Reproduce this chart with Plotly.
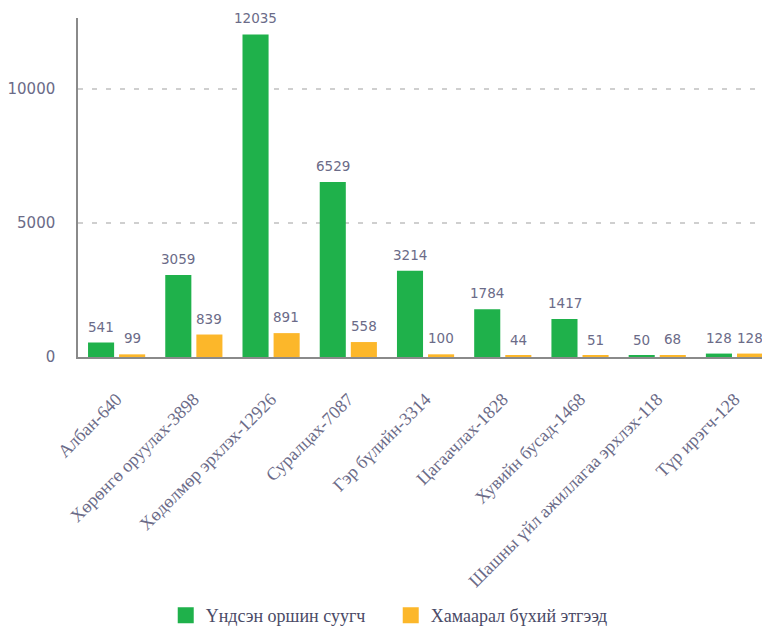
import plotly.graph_objects as go

categories = [
    "Албан-640",
    "Хөрөнгө оруулах-3898",
    "Хөдөлмөр эрхлэх-12926",
    "Суралцах-7087",
    "Гэр бүлийн-3314",
    "Цагаачлах-1828",
    "Хувийн бусад-1468",
    "Шашны үйл ажиллагаа эрхлэх-118",
    "Түр ирэгч-128",
]
residents = [541, 3059, 12035, 6529, 3214, 1784, 1417, 50, 128]
related = [99, 839, 891, 558, 100, 44, 51, 68, 128]
series_names = ["Үндсэн оршин суугч", "Хамаарал бүхий этгээд"]
y_ticks = [0, 5000, 10000]

GREEN = "#1fb14b"
ORANGE = "#fcb72a"
TEXT = "#6b6b88"
SANS = "DejaVu Sans"
SERIF = "Liberation Serif"

fig = go.Figure()
fig.add_trace(go.Bar(x=categories, y=residents, name=series_names[0],
                     marker=dict(color=GREEN, line=dict(width=0)),
                     showlegend=False, hoverinfo="x+y"))
fig.add_trace(go.Bar(x=categories, y=related, name=series_names[1],
                     marker=dict(color=ORANGE, line=dict(width=0)),
                     showlegend=False, hoverinfo="x+y"))
# legend entries with larger square swatches
for nm, col in zip(series_names, [GREEN, ORANGE]):
    fig.add_trace(go.Scatter(x=[None], y=[None], mode="markers", name=nm,
                             marker=dict(symbol="square", size=16, color=col)))

annotations = []
for vals, shift in ((residents, -15.4), (related, 15.4)):
    for c, v in zip(categories, vals):
        annotations.append(dict(x=c, y=v, text=str(v), showarrow=False,
                                xanchor="center", yanchor="bottom",
                                xshift=shift, yshift=7, borderpad=0,
                                font=dict(family=SANS, size=13.5, color=TEXT)))

# the page adds an 8px body margin, so the figure is 8px smaller on each axis
fig.update_layout(
    width=762, height=623,
    margin=dict(l=70, r=0, t=10, b=274),
    paper_bgcolor="white", plot_bgcolor="white",
    barmode="group", bargap=0.195, bargroupgap=0.161,
    annotations=annotations,
    showlegend=True,
    legend=dict(orientation="h", xref="container", yref="container",
                x=0.207, xanchor="left", y=0.0546, yanchor="top",
                entrywidth=180, entrywidthmode="pixels",
                font=dict(family=SERIF, size=18, color="#4a4a66"),
                itemclick=False, itemdoubleclick=False),
    xaxis=dict(type="category", range=[-0.5, 8.46], tickangle=-45,
               showline=True, linecolor="#8a8a8a", linewidth=1.5,
               ticks="", showgrid=False, ticklabelstandoff=23,
               tickfont=dict(family=SERIF, size=18, color=TEXT)),
    yaxis=dict(range=[0, 12650], tickvals=y_ticks, ticktext=[str(t) for t in y_ticks],
               showline=True, linecolor="#8a8a8a", linewidth=1.5,
               ticks="", showgrid=True, gridcolor="#cfcfcf", griddash="5px,9px",
               gridwidth=1.5, zeroline=False, ticklabelstandoff=18,
               tickfont=dict(family=SANS, size=15, color=TEXT)),
)

fig.write_html("out.html")
